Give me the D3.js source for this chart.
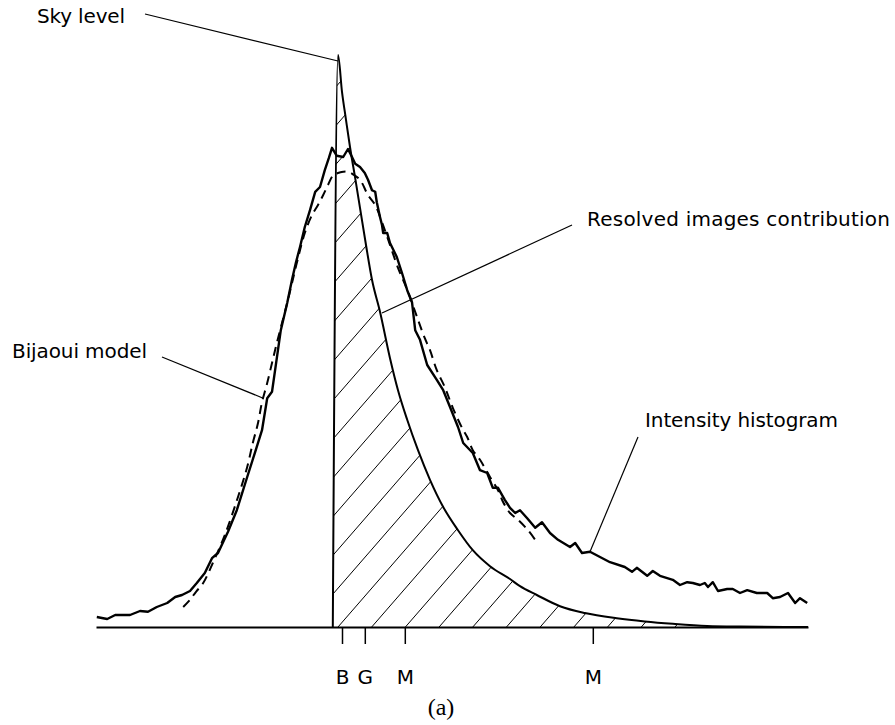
<!DOCTYPE html>
<html>
<head>
<meta charset="utf-8">
<script src="https://cdn.jsdelivr.net/npm/d3@7"></script>
<style>
  html, body { margin: 0; padding: 0; background: #fff; }
  svg { display: block; }
  text { font-family: "DejaVu Sans", sans-serif; fill: #000; }
</style>
</head>
<body>
<script>
// Intensity histogram of a field (intensity bin, number of pixels)
const histIntensity = [0.2,1.8,2.8,4.8,6.5,8.5,11,13,15.2,17.8,19.8,21.5,23.5,25.2,27.2,29,30.5,33,35.2,37.8,39.8,41.5,42.8,44,46.2,47.8,49,50,51,52.2,53.5,54.8,56,57.2,58.2,59,60.2,61.8,63,64,64.8,66,67.2,68,69,69.8,70.2,71,71.5,71.8,72.8,73.5,75.2,76.5,77.8,79,79.8,81,82.8,85.2,86.8,88.5,90.5,91.8,94.2,96,97.8,99.2,100.5,102.2,103.5,104.8,106,107.8,109.8,111.5,113.5,115.5,118.5,119.8,121.5,123.5,126,128.5,132.2,134,135.2,137.8,139.2,141,144.2,146,147.8,149.2,151,152.2,153,154.2,155.5,157.8,159.2,161,162.8,165.2,167.8,169.2,171,173,174.8,176,177.8];
const histCounts = [2.5,2.2,2.0,3.0,3.0,3.0,4.0,3.8,5.0,6.0,7.5,8.0,9.0,11.0,13.5,17.2,18.5,23.8,29.2,37.5,43.8,49.2,57.2,58.8,74.2,81,86.8,91.2,95,100,104.2,108.8,110,114.2,117.2,119.8,117.8,117.5,119.5,117.5,115.8,115,113.5,111.8,109.2,108.8,106.2,102.5,100.5,98.5,98.5,96,92.5,88.5,84.2,81.2,74.2,71.8,65.5,61.8,59.2,55,50,46,43.5,39.2,38.5,34.8,34.8,31.8,29.8,28.5,29.2,27.2,24.8,26.2,23.5,21.8,20,21,18.5,18.8,17.5,16.2,15,13.8,14.8,12.8,14,12.8,11.8,10.5,11.2,11,10.5,11,10,11.2,9,9.5,9.5,8.5,9.2,8.5,8.5,7.2,7.5,8.5,6,7.2,6];

// Bijaoui model fitted to the histogram
const modelIntensity = [21.8,23.5,25,26.8,29.2,32.2,35.5,37.8,39.2,40.5,41.5,42.8,44,45.2,46.5,47.8,49,50.5,52.2,54,55.5,56.8,58,59.2,60.5,61.8,63,64.5,66,68,69.8,71.5,73.5,75.5,78,80.5,82.2,83.5,85.2,87.2,89.2,91.5,92.8,94.2,96,98.5,100.5,101.8,103.5,105.5,108,109.8];
const modelCounts = [5,6.8,8.8,11,16,23,32.5,40,46,51,56.2,61,66,71,76,81,86,92.2,98.5,103,105.5,108,110.5,112.8,113.5,113.8,113.8,113,111.8,108,105.5,101.2,95.5,89.8,83.8,76.8,72.2,69.2,64.2,60,54.8,49.8,47.5,44.2,41.8,37.5,34.2,31.2,28.5,26.8,24.2,21.8];

// Contribution of the resolved images, starting at the sky level
const resolvedIntensity = [59.2,60.5,61.5,62.5,63.5,64.8,66,67.5,69,71,73.5,75.5,77.8,80.5,83.5,86.8,90.5,94.2,98.5,103.5,106,110.2,116,122.2,130.2,137.2,144.2,152.8,161,178];
const resolvedCounts = [0,143,133.8,126.8,120,112.2,104.8,95.5,86.8,78.8,67.2,59.2,51.8,44.2,36.8,30,24.2,19.2,15.2,12,10.2,8,5.2,3.5,2.2,1.4,0.8,0.25,0.1,0];

// Marked intensities on the axis
const markerIntensity = [61.5, 67.2, 77.2, 124.2];
const markerLabels = ["B", "G", "M", "M"];

const width = 895, height = 725;
const svg = d3.select("body").append("svg")
  .attr("width", width).attr("height", height);
svg.append("rect").attr("width", width).attr("height", height).attr("fill", "#fff");

const x = d3.scaleLinear().domain([0, 178]).range([96, 808]);
const y = d3.scaleLinear().domain([0, 150]).range([627, 27]);

const hist = histIntensity.map((v, i) => [v, histCounts[i]]);
const model = modelIntensity.map((v, i) => [v, modelCounts[i]]);
const resolved = resolvedIntensity.map((v, i) => [v, resolvedCounts[i]]);

// Hatched area under the resolved-image curve
const area = d3.area()
  .x(d => x(d[0])).y0(y(0)).y1(d => y(d[1]))
  .curve(d3.curveMonotoneX);

svg.append("clipPath").attr("id", "resolved-clip")
  .append("path").attr("d", area(resolved));

const hatchStep = 33.7, hatchSlope = 1.15, hatchRise = 640;
const hatchStart = x(resolved[1][0]);
const hatch = svg.append("g").attr("clip-path", "url(#resolved-clip)");
for (let k = -20; k < 16; k++) {
  const x0 = hatchStart + k * hatchStep;
  hatch.append("line")
    .attr("x1", x0).attr("y1", y(0))
    .attr("x2", x0 + hatchRise / hatchSlope).attr("y2", y(0) - hatchRise)
    .attr("stroke", "#000").attr("stroke-width", 1);
}

// Resolved-image curve with the sky-level edge
svg.append("path")
  .attr("d", d3.line().x(d => x(d[0])).y(d => y(d[1])).curve(d3.curveMonotoneX)(resolved))
  .attr("fill", "none").attr("stroke", "#000").attr("stroke-width", 2);

// Model (dashed)
svg.append("path")
  .attr("d", d3.line().x(d => x(d[0])).y(d => y(d[1])).curve(d3.curveCatmullRom)(model))
  .attr("fill", "none").attr("stroke", "#000").attr("stroke-width", 2)
  .attr("stroke-dasharray", "9,6");

// Histogram
svg.append("path")
  .attr("d", d3.line().x(d => x(d[0])).y(d => y(d[1]))(hist))
  .attr("fill", "none").attr("stroke", "#000").attr("stroke-width", 2.4)
  .attr("stroke-linejoin", "round");

// Intensity axis with the marked values
const axis = d3.axisBottom(x)
  .tickValues(markerIntensity)
  .tickFormat((d, i) => markerLabels[i])
  .tickSizeOuter(0)
  .tickSizeInner(17)
  .tickPadding(26);
const gAxis = svg.append("g").attr("transform", `translate(0,${y(0)})`).call(axis);
gAxis.select(".domain").attr("stroke", "#000").attr("stroke-width", 2);
gAxis.selectAll(".tick line").attr("stroke", "#000").attr("stroke-width", 1.5);
gAxis.selectAll(".tick text")
  .attr("font-family", "DejaVu Sans, sans-serif")
  .attr("font-size", 20).attr("fill", "#000");

// Annotations with leader lines
const notes = [
  { text: "Sky level", tx: 37, ty: 23, len: 88, lx: 145, ly: 14, at: [60.5, 141.5] },
  { text: "Resolved images contribution", tx: 587, ty: 226, len: 303, lx: 572, ly: 225, at: [71.5, 78.5] },
  { text: "Bijaoui model", tx: 12, ty: 358, len: 135, lx: 162, ly: 357, at: [41.8, 57.2] },
  { text: "Intensity histogram", tx: 645, ty: 427, len: 193, lx: 638, ly: 437, at: [123.5, 18.8] }
];
notes.forEach(n => {
  svg.append("line")
    .attr("x1", n.lx).attr("y1", n.ly)
    .attr("x2", x(n.at[0])).attr("y2", y(n.at[1]))
    .attr("stroke", "#000").attr("stroke-width", 1.2);
  svg.append("text")
    .attr("x", n.tx).attr("y", n.ty)
    .attr("font-size", 20)
    .attr("textLength", n.len).attr("lengthAdjust", "spacing")
    .text(n.text);
});

// Panel caption
svg.append("text")
  .attr("x", 441).attr("y", 715)
  .attr("text-anchor", "middle")
  .attr("font-size", 24)
  .style("font-family", "'Liberation Serif', serif")
  .text("(a)");
</script>
</body>
</html>
